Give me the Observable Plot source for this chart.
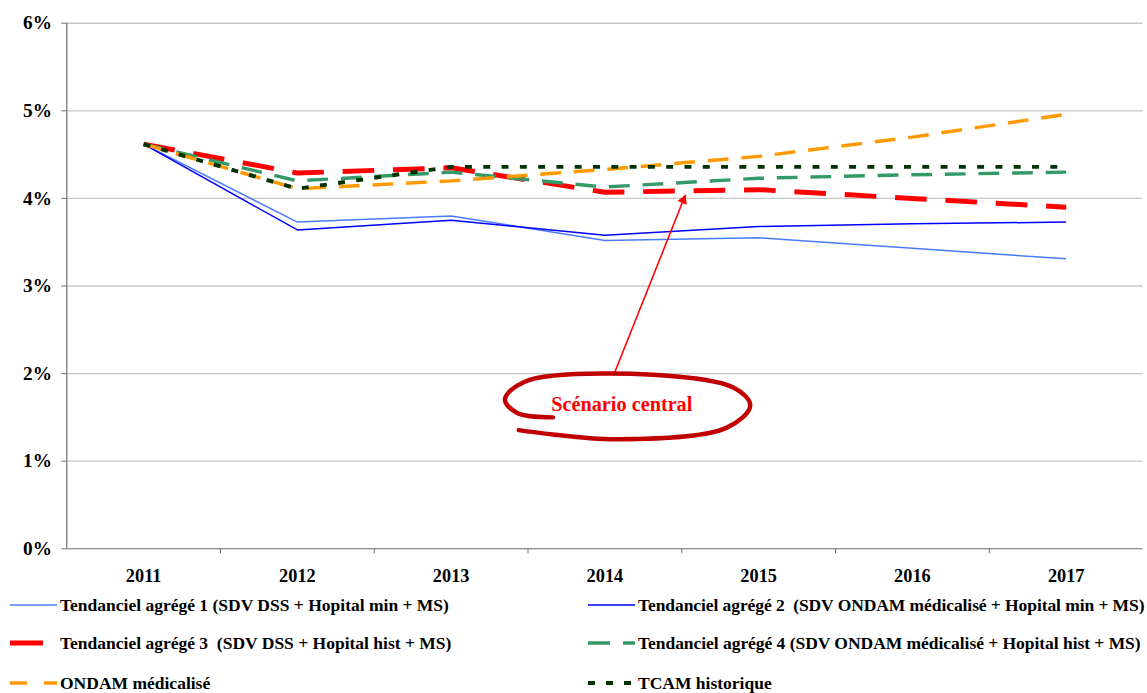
<!DOCTYPE html>
<html><head><meta charset="utf-8">
<script src="https://cdn.jsdelivr.net/npm/d3@7"></script>
<script src="https://cdn.jsdelivr.net/npm/@observablehq/plot@0.6"></script>
<style>
html,body{margin:0;padding:0;background:#fff;overflow:hidden;width:1147px;height:693px}
#wrap{position:relative;width:1147px;height:693px;overflow:hidden}
#chart{position:absolute;left:0;top:0}
#legend{position:absolute;left:0;top:584px;width:1160px;height:109px;background:#fff}
.leg{position:absolute;font-family:"Liberation Serif",serif;font-weight:bold;font-size:17.5px;white-space:pre;color:#000;display:flex;align-items:center;height:20px}
.leg svg{display:block}
</style></head><body><div id="wrap"><div id="chart"></div><div id="legend"></div></div>
<script>
// ---- data ----
const years = [2011, 2012, 2013, 2014, 2015, 2016, 2017];
const tendanciel1 = [4.62, 3.73, 3.80, 3.52, 3.55, 3.43, 3.31];
const tendanciel2 = [4.62, 3.64, 3.75, 3.58, 3.68, 3.71, 3.73];
const tendanciel3 = [4.62, 4.29, 4.35, 4.07, 4.10, 4.00, 3.90];
const tendanciel4 = [4.62, 4.20, 4.30, 4.13, 4.23, 4.27, 4.30];
const ondamMedicalise = [4.62, 4.11, 4.20, 4.33, 4.48, 4.70, 4.96];
const tcamHistorique = [4.62, 4.11, 4.36, 4.36, 4.36, 4.36, 4.36];
const yTicks = [0, 1, 2, 3, 4, 5, 6];
const seriesNames = [
  "Tendanciel agrégé 1 (SDV DSS + Hopital min + MS)",
  "Tendanciel agrégé 2  (SDV ONDAM médicalisé + Hopital min + MS)",
  "Tendanciel agrégé 3  (SDV DSS + Hopital hist + MS)",
  "Tendanciel agrégé 4 (SDV ONDAM médicalisé + Hopital hist + MS)",
  "ONDAM médicalisé",
  "TCAM historique"
];
// annotation (in data units)
const annotationLabel = "Scénario central";
const labelPos = {x: 2014.11, y: 1.644};
const arrowFrom = {x: 2014.056, y: 1.979};
const arrowTo = {x: 2014.524, y: 4.042};
const ellipseYears = [2013.440, 2014.076, 2014.790, 2014.945, 2014.835, 2014.056, 2013.475, 2013.350, 2013.430, 2013.662];
const ellipseValues = [1.355, 1.250, 1.380, 1.635, 1.840, 2.000, 1.905, 1.705, 1.550, 1.500];

// ---- styles ----
const seriesValues = [tendanciel1, tendanciel2, tendanciel3, tendanciel4, ondamMedicalise, tcamHistorique];
const styles = [
  {stroke: "#4a7bff", strokeWidth: 1.5, dash: null},
  {stroke: "#0000ff", strokeWidth: 1.5, dash: null},
  {stroke: "#ff0000", strokeWidth: 5, dash: "32,19"},
  {stroke: "#339966", strokeWidth: 3.5, dash: "21,13"},
  {stroke: "#ff9900", strokeWidth: 3.5, dash: "21,13"},
  {stroke: "#003300", strokeWidth: 4, dash: "7,11.5"}
];

const lineMarks = seriesValues.map((vals, i) => {
  const rows = years.map((yr, j) => ({year: yr, value: vals[j]}));
  const s = styles[i];
  const opts = {x: "year", y: "value", stroke: s.stroke, strokeWidth: s.strokeWidth, strokeLinejoin: "miter", strokeLinecap: "butt"};
  if (s.dash) opts.strokeDasharray = s.dash;
  return Plot.line(rows, opts);
});

const boundaries = years.slice(0, -1).map(y => y + 0.5);
const ellipseRows = ellipseYears.map((x, i) => ({x, y: ellipseValues[i]}));
const headAngle = 21.7; // degrees, direction of the arrow head

const plot = Plot.plot({
  width: 1160,
  height: 600,
  marginLeft: 67,
  marginRight: 4.5,
  marginTop: 23,
  marginBottom: 45.5,
  x: {domain: [years[0] - 0.5, years[years.length - 1] + 0.5]},
  y: {domain: [0, 6]},
  style: {fontFamily: "Liberation Serif, serif", fontWeight: "bold", fontSize: "19px", color: "#000", overflow: "visible"},
  marks: [
    Plot.gridY(yTicks.filter(d => d > 0), {stroke: "#c6c6c6", strokeOpacity: 1, strokeWidth: 1.3}),
    Plot.axisY({ticks: yTicks, tickFormat: d => d + "%", tickSize: 5, tickPadding: 10, label: null, stroke: "#6e6e6e", fill: "#000", fontSize: 19.5, fontWeight: "bold"}),
    Plot.axisX({ticks: years, tickSize: 0, tickPadding: 20.5, tickFormat: d => String(d), label: null, fill: "#000", fontSize: 18.5, fontWeight: "bold"}),
    Plot.axisX({ticks: boundaries, tickSize: 5, tickFormat: () => "", label: null, stroke: "#6e6e6e"}),
    Plot.ruleX([years[0] - 0.5], {stroke: "#6e6e6e", strokeWidth: 1.2}),
    Plot.ruleY([0], {stroke: "#6e6e6e", strokeWidth: 1.2}),
    ...lineMarks,
    Plot.link([{x1: arrowFrom.x, y1: arrowFrom.y, x2: arrowTo.x, y2: arrowTo.y}], {x1: "x1", y1: "y1", x2: "x2", y2: "y2", stroke: "#ff0000", strokeWidth: 1.6}),
    Plot.dot([arrowTo], {x: "x", y: "y", symbol: "triangle", r: 3.8, fill: "#ff0000", stroke: "none", rotate: headAngle,
      dx: -Math.sin(headAngle * Math.PI / 180) * 6, dy: Math.cos(headAngle * Math.PI / 180) * 6}),
    Plot.line(ellipseRows, {x: "x", y: "y", stroke: "#c00000", strokeWidth: 4.5, curve: "catmull-rom", strokeLinecap: "round"}),
    Plot.text([labelPos], {x: "x", y: "y", text: () => annotationLabel, fill: "#ff0000", fontSize: 20.5, fontWeight: "bold", fontFamily: "Liberation Serif, serif"})
  ]
});
document.getElementById("chart").appendChild(plot);

// ---- legend ----
const legendTop = 584;
const legendPos = [
  {left: 10, top: 595, sw: 47, text: 60, ls: 0},
  {left: 588, top: 595, sw: 47, text: 638, ls: -0.08},
  {left: 10, top: 633, sw: 47, text: 60, ls: 0},
  {left: 588, top: 633, sw: 47, text: 638, ls: -0.04},
  {left: 10, top: 673, sw: 47, text: 60, ls: 0},
  {left: 588, top: 673, sw: 47, text: 638, ls: 0}
];
const swatchDash = ["", "", "33,100", "22,13", "17,17", "7,11"];
const legend = document.getElementById("legend");
seriesNames.forEach((name, i) => {
  const p = legendPos[i], s = styles[i];
  const sw = document.createElementNS("http://www.w3.org/2000/svg", "svg");
  sw.setAttribute("width", p.sw); sw.setAttribute("height", 20);
  sw.style.position = "absolute"; sw.style.left = p.left + "px"; sw.style.top = (p.top - legendTop) + "px";
  const ln = document.createElementNS("http://www.w3.org/2000/svg", "line");
  ln.setAttribute("x1", 0); ln.setAttribute("x2", p.sw); ln.setAttribute("y1", 10); ln.setAttribute("y2", 10);
  ln.setAttribute("stroke", s.stroke); ln.setAttribute("stroke-width", s.strokeWidth);
  if (swatchDash[i]) ln.setAttribute("stroke-dasharray", swatchDash[i]);
  sw.appendChild(ln);
  legend.appendChild(sw);
  const d = document.createElement("div");
  d.className = "leg"; d.textContent = name;
  d.style.left = p.text + "px"; d.style.top = (p.top - legendTop) + "px";
  d.style.letterSpacing = p.ls + "px";
  legend.appendChild(d);
});
</script>
</body></html>
